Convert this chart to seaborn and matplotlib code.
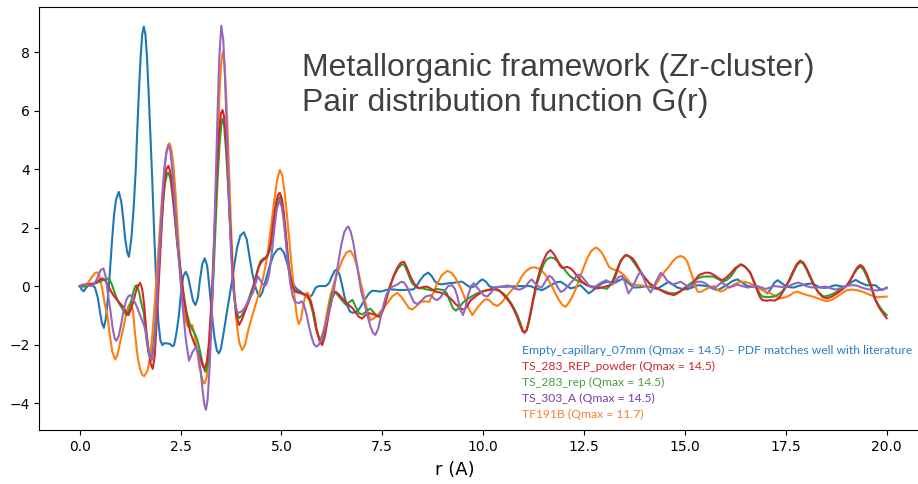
import matplotlib
matplotlib.use("Agg")
import logging
logging.getLogger("matplotlib.font_manager").setLevel(logging.ERROR)
import matplotlib.pyplot as plt
import seaborn as sns
import pandas as pd

# ---------------- data: (r, G) pairs ----------------
empty_capillary = [
    (0.00, 0.00), (0.05, -0.12), (0.10, -0.18), (0.15, -0.08), (0.22, 0.03), (0.30, 0.05), (0.38, -0.05),
    (0.45, -0.40), (0.50, -0.85), (0.55, -1.25), (0.60, -1.43), (0.65, -1.10), (0.70, -0.40), (0.75, 0.50),
    (0.80, 1.50), (0.85, 2.40), (0.90, 2.95), (0.97, 3.22), (1.03, 2.90), (1.08, 2.30), (1.13, 1.60),
    (1.18, 1.15), (1.22, 1.00), (1.28, 1.60), (1.34, 2.70), (1.39, 3.97), (1.43, 5.40), (1.47, 6.70),
    (1.51, 7.80), (1.55, 8.60), (1.59, 8.87), (1.63, 8.60), (1.67, 7.80), (1.71, 6.60), (1.75, 5.30),
    (1.80, 3.60), (1.85, 1.70), (1.90, 0.00), (1.95, -1.20), (2.00, -1.85), (2.05, -2.02), (2.10, -1.95),
    (2.17, -1.96), (2.24, -1.98), (2.30, -2.06), (2.34, -2.02), (2.40, -1.60), (2.46, -1.00), (2.52, -0.10),
    (2.57, 0.35), (2.63, 0.49), (2.69, 0.30), (2.75, -0.10), (2.81, -0.50), (2.87, -0.65), (2.93, -0.40),
    (2.98, 0.20), (3.04, 0.75), (3.10, 0.95), (3.16, 0.70), (3.22, -0.10), (3.28, -1.00), (3.34, -1.75),
    (3.40, -2.20), (3.45, -2.30), (3.50, -2.15), (3.58, -1.50), (3.66, -0.80), (3.74, -0.14), (3.82, 0.60),
    (3.90, 1.30), (3.98, 1.72), (4.07, 1.84), (4.14, 1.60), (4.21, 1.00), (4.28, 0.43), (4.36, -0.05),
    (4.43, -0.32), (4.47, -0.36), (4.53, -0.20), (4.60, 0.15), (4.70, 0.65), (4.80, 1.05), (4.90, 1.25),
    (4.98, 1.29), (5.06, 1.15), (5.14, 0.80), (5.23, 0.32), (5.33, -0.02), (5.40, -0.12), (5.48, -0.19),
    (5.58, -0.32), (5.68, -0.40), (5.76, -0.30), (5.85, -0.05), (5.93, 0.00), (6.01, 0.00), (6.10, 0.00),
    (6.18, 0.10), (6.26, 0.35), (6.32, 0.52), (6.38, 0.57), (6.44, 0.40), (6.50, 0.05), (6.57, -0.40),
    (6.64, -0.70), (6.70, -0.87), (6.76, -0.91), (6.84, -0.90), (6.92, -0.80), (7.00, -0.62), (7.09, -0.42),
    (7.17, -0.25), (7.25, -0.16), (7.35, -0.17), (7.46, -0.19), (7.56, -0.15), (7.66, -0.11), (7.80, -0.12),
    (7.95, -0.14), (8.10, -0.13), (8.28, -0.11), (8.37, 0.05), (8.45, 0.22), (8.54, 0.38), (8.64, 0.46),
    (8.72, 0.35), (8.80, 0.17), (8.86, 0.09), (8.95, 0.06), (9.03, 0.07), (9.15, 0.10), (9.27, 0.11),
    (9.38, 0.14), (9.48, 0.15), (9.58, 0.05), (9.69, -0.05), (9.80, 0.00), (9.90, 0.15), (9.98, 0.23),
    (10.07, 0.15), (10.15, 0.00), (10.23, -0.05), (10.40, -0.03), (10.60, -0.02), (10.90, 0.00),
    (11.17, 0.00), (11.30, -0.08), (11.46, -0.14), (11.58, -0.05), (11.70, 0.05), (11.82, 0.13),
    (11.92, 0.15), (12.05, 0.03), (12.17, -0.08), (12.30, -0.03), (12.41, 0.03), (12.52, -0.12),
    (12.62, -0.25), (12.72, -0.15), (12.85, 0.00), (12.96, 0.10), (13.07, 0.15), (13.18, 0.12),
    (13.28, 0.12), (13.38, 0.20), (13.49, 0.26), (13.60, 0.10), (13.74, -0.05), (13.90, -0.04),
    (14.07, 0.00), (14.20, -0.06), (14.30, -0.10), (14.45, 0.02), (14.60, 0.15), (14.70, 0.06),
    (14.81, -0.05), (14.95, -0.10), (15.06, -0.11), (15.18, -0.05), (15.31, 0.03), (15.43, 0.02),
    (15.55, 0.00), (15.68, -0.08), (15.81, -0.14), (15.92, -0.06), (16.05, 0.05), (16.18, 0.17),
    (16.30, 0.23), (16.42, 0.12), (16.55, 0.00), (16.68, -0.02), (16.80, -0.02), (16.92, -0.12),
    (17.05, -0.25), (17.15, -0.05), (17.22, 0.12), (17.30, 0.20), (17.40, 0.10), (17.50, 0.00),
    (17.60, -0.04), (17.70, -0.05), (17.80, 0.00), (17.90, 0.03), (18.02, 0.07), (18.15, 0.09),
    (18.25, 0.02), (18.35, -0.05), (18.45, -0.06), (18.55, -0.05), (18.65, 0.00), (18.73, 0.03),
    (18.84, 0.00), (18.95, -0.02), (19.05, 0.05), (19.15, 0.15), (19.23, 0.21), (19.35, 0.12),
    (19.50, 0.03), (19.62, 0.03), (19.72, 0.03), (19.80, -0.06), (19.89, -0.14), (20.00, -0.05)]

tf191b = [
    (0.00, 0.00), (0.10, 0.02), (0.20, 0.10), (0.30, 0.30), (0.38, 0.45), (0.44, 0.47), (0.50, 0.30),
    (0.56, -0.10), (0.62, -0.60), (0.68, -0.95), (0.75, -1.70), (0.81, -2.25), (0.88, -2.51), (0.94, -2.35),
    (0.99, -2.00), (1.03, -1.75), (1.09, -1.39), (1.15, -0.95), (1.21, -0.68), (1.27, -0.55), (1.32, -0.85),
    (1.38, -1.73), (1.44, -2.45), (1.50, -2.85), (1.55, -3.03), (1.60, -3.08), (1.68, -2.90), (1.75, -2.40),
    (1.80, -1.70), (1.85, -0.80), (1.90, 0.20), (1.95, 1.20), (2.00, 2.20), (2.05, 3.20), (2.10, 4.00),
    (2.15, 4.55), (2.20, 4.85), (2.23, 4.88), (2.27, 4.70), (2.32, 4.20), (2.37, 3.30), (2.42, 2.20),
    (2.47, 1.10), (2.52, 0.00), (2.57, -0.70), (2.63, -1.20), (2.68, -1.38), (2.73, -1.35), (2.79, -1.33),
    (2.84, -1.60), (2.90, -2.10), (2.96, -2.70), (3.02, -3.10), (3.07, -3.30), (3.10, -3.33), (3.15, -3.10),
    (3.20, -2.50), (3.25, -1.40), (3.30, 0.00), (3.35, 2.00), (3.40, 4.00), (3.44, 5.60), (3.48, 7.00),
    (3.52, 7.80), (3.55, 8.01), (3.59, 7.60), (3.63, 6.60), (3.67, 5.20), (3.71, 3.60), (3.75, 2.10),
    (3.79, 0.80), (3.84, -0.40), (3.90, -1.40), (3.96, -1.95), (4.03, -2.19), (4.10, -2.00), (4.18, -1.50),
    (4.25, -1.15), (4.32, -0.82), (4.40, -0.45), (4.48, -0.10), (4.57, 0.43), (4.66, 1.10), (4.74, 2.00),
    (4.82, 2.90), (4.89, 3.60), (4.96, 3.97), (5.02, 3.80), (5.08, 3.20), (5.14, 2.40), (5.20, 1.50),
    (5.26, 0.60), (5.32, -0.30), (5.38, -1.00), (5.43, -1.30), (5.48, -1.15), (5.53, -0.75), (5.58, -0.40),
    (5.64, -0.22), (5.70, -0.35), (5.76, -0.70), (5.82, -1.20), (5.88, -1.60), (5.95, -1.83), (6.01, -1.70),
    (6.08, -1.30), (6.14, -0.82), (6.22, -0.30), (6.30, 0.09), (6.40, 0.50), (6.51, 0.89), (6.61, 1.15),
    (6.71, 1.21), (6.80, 1.00), (6.88, 0.66), (6.96, 0.15), (7.05, -0.36), (7.13, -0.85), (7.21, -1.16),
    (7.30, -1.10), (7.38, -0.99), (7.50, -0.80), (7.62, -0.59), (7.75, -0.35), (7.87, -0.23), (7.98, -0.38),
    (8.08, -0.59), (8.16, -0.75), (8.24, -0.80), (8.35, -0.68), (8.45, -0.54), (8.56, -0.52), (8.66, -0.54),
    (8.76, -0.25), (8.86, 0.09), (8.98, 0.38), (9.11, 0.52), (9.22, 0.45), (9.32, 0.26), (9.42, 0.00),
    (9.52, -0.31), (9.62, -0.70), (9.73, -0.99), (9.85, -0.75), (9.98, -0.54), (10.06, -0.45),
    (10.15, -0.48), (10.25, -0.62), (10.35, -0.68), (10.45, -0.58), (10.60, -0.31), (10.72, -0.12),
    (10.81, -0.03), (10.90, 0.18), (10.97, 0.36), (11.07, 0.52), (11.17, 0.62), (11.28, 0.64), (11.38, 0.60),
    (11.47, 0.50), (11.55, 0.37), (11.63, 0.18), (11.71, -0.02), (11.80, -0.28), (11.88, -0.48),
    (11.96, -0.64), (12.04, -0.71), (12.12, -0.58), (12.21, -0.36), (12.30, -0.08), (12.38, 0.21),
    (12.48, 0.60), (12.58, 0.95), (12.68, 1.20), (12.79, 1.32), (12.87, 1.25), (12.95, 1.12), (13.04, 0.88),
    (13.12, 0.66), (13.20, 0.58), (13.28, 0.55), (13.37, 0.50), (13.45, 0.43), (13.55, 0.28), (13.65, 0.10),
    (13.78, 0.04), (13.90, 0.03), (14.00, 0.00), (14.10, 0.00), (14.20, 0.01), (14.27, 0.03), (14.33, 0.15),
    (14.40, 0.32), (14.50, 0.50), (14.60, 0.66), (14.70, 0.85), (14.80, 0.98), (14.89, 1.03), (14.98, 0.98),
    (15.06, 0.83), (15.14, 0.50), (15.22, 0.20), (15.27, -0.05), (15.32, -0.20), (15.40, -0.20),
    (15.47, -0.14), (15.60, -0.05), (15.72, 0.00), (15.80, -0.12), (15.88, -0.19), (15.98, -0.14),
    (16.05, -0.06), (16.13, -0.02), (16.25, 0.08), (16.38, 0.15), (16.50, 0.14), (16.60, 0.10),
    (16.72, 0.02), (16.85, -0.08), (16.98, -0.18), (17.12, -0.25), (17.25, -0.35), (17.37, -0.42),
    (17.50, -0.38), (17.61, -0.31), (17.70, -0.22), (17.78, -0.19), (17.90, -0.25), (18.03, -0.31),
    (18.17, -0.36), (18.30, -0.42), (18.42, -0.48), (18.52, -0.52), (18.65, -0.46), (18.77, -0.36),
    (18.90, -0.24), (19.02, -0.14), (19.15, -0.12), (19.30, -0.15), (19.42, -0.20), (19.55, -0.28),
    (19.66, -0.34), (19.76, -0.38), (19.88, -0.37), (20.00, -0.36)]

ts_283_rep = [
    (0.00, 0.00), (0.10, -0.02), (0.20, 0.00), (0.30, 0.05), (0.40, 0.10), (0.50, 0.15), (0.60, 0.22),
    (0.68, 0.26), (0.74, 0.22), (0.80, 0.05), (0.86, -0.20), (0.92, -0.42), (0.98, -0.60), (1.05, -0.75),
    (1.11, -0.90), (1.17, -0.99), (1.22, -0.85), (1.27, -0.55), (1.33, -0.20), (1.38, 0.00), (1.42, 0.03),
    (1.47, -0.20), (1.53, -0.60), (1.59, -0.93), (1.65, -1.75), (1.70, -2.25), (1.75, -2.45), (1.79, -2.45),
    (1.83, -2.00), (1.87, -1.40), (1.92, -0.40), (1.97, 0.70), (2.02, 1.90), (2.07, 2.90), (2.12, 3.55),
    (2.17, 3.85), (2.20, 3.88), (2.25, 3.65), (2.30, 3.10), (2.36, 2.30), (2.42, 1.40), (2.50, 0.50),
    (2.58, -0.30), (2.65, -0.90), (2.73, -1.30), (2.80, -1.50), (2.86, -1.65), (2.92, -1.85), (2.98, -2.20),
    (3.04, -2.60), (3.09, -2.85), (3.12, -2.93), (3.17, -2.70), (3.22, -2.00), (3.27, -0.90), (3.32, 0.50),
    (3.37, 2.10), (3.42, 3.70), (3.47, 4.90), (3.51, 5.50), (3.54, 5.73), (3.58, 5.50), (3.63, 4.60),
    (3.68, 3.40), (3.73, 2.00), (3.78, 0.70), (3.83, -0.30), (3.89, -0.90), (3.95, -1.10), (4.02, -1.00),
    (4.10, -0.80), (4.20, -0.40), (4.30, 0.00), (4.40, 0.50), (4.48, 0.85), (4.56, 0.95), (4.65, 1.00),
    (4.72, 1.25), (4.78, 1.70), (4.84, 2.40), (4.90, 2.90), (4.96, 3.05), (5.01, 2.90), (5.06, 2.40),
    (5.11, 1.70), (5.16, 1.00), (5.21, 0.40), (5.27, 0.00), (5.35, -0.20), (5.48, -0.25), (5.62, -0.30),
    (5.70, -0.50), (5.78, -0.90), (5.86, -1.45), (5.94, -1.80), (6.02, -1.92), (6.08, -1.60), (6.14, -1.10),
    (6.20, -0.60), (6.27, -0.20), (6.34, -0.20), (6.42, -0.35), (6.51, -0.50), (6.60, -0.64), (6.68, -0.55),
    (6.76, -0.47), (6.84, -0.70), (6.92, -0.92), (7.00, -0.97), (7.08, -0.90), (7.15, -0.80), (7.21, -0.78),
    (7.29, -0.90), (7.36, -1.02), (7.42, -1.05), (7.50, -0.85), (7.60, -0.40), (7.70, 0.05), (7.79, 0.35),
    (7.90, 0.62), (7.97, 0.72), (8.04, 0.75), (8.12, 0.50), (8.18, 0.28), (8.24, 0.10), (8.35, -0.05),
    (8.50, -0.08), (8.62, -0.12), (8.73, -0.15), (8.85, -0.10), (8.95, -0.12), (9.03, -0.14), (9.10, -0.25),
    (9.17, -0.50), (9.25, -0.75), (9.32, -0.84), (9.40, -0.75), (9.48, -0.59), (9.60, -0.45), (9.72, -0.35),
    (9.85, -0.25), (10.00, -0.17), (10.10, -0.14), (10.30, -0.12), (10.42, -0.18), (10.50, -0.25),
    (10.60, -0.40), (10.70, -0.60), (10.78, -0.80), (10.85, -1.00), (10.93, -1.30), (10.98, -1.50),
    (11.03, -1.58), (11.08, -1.50), (11.13, -1.25), (11.17, -1.00), (11.25, -0.45), (11.34, 0.10),
    (11.42, 0.45), (11.50, 0.75), (11.58, 0.92), (11.67, 0.98), (11.76, 0.95), (11.84, 0.85), (11.92, 0.72),
    (12.00, 0.60), (12.08, 0.45), (12.17, 0.32), (12.28, 0.22), (12.40, 0.15), (12.52, 0.08), (12.66, 0.00),
    (12.78, -0.03), (12.90, -0.05), (13.07, -0.09), (13.16, 0.05), (13.23, 0.25), (13.30, 0.50),
    (13.40, 0.85), (13.50, 1.03), (13.57, 1.06), (13.66, 0.95), (13.75, 0.78), (13.84, 0.60), (13.92, 0.42),
    (14.00, 0.30), (14.10, 0.12), (14.20, 0.00), (14.35, -0.10), (14.50, -0.18), (14.62, -0.24),
    (14.75, -0.25), (14.85, -0.20), (14.93, -0.12), (15.05, 0.00), (15.20, 0.15), (15.30, 0.25),
    (15.43, 0.32), (15.58, 0.33), (15.72, 0.32), (15.85, 0.22), (15.95, 0.15), (16.05, 0.22), (16.15, 0.35),
    (16.27, 0.60), (16.38, 0.75), (16.48, 0.68), (16.60, 0.50), (16.70, 0.20), (16.78, -0.05), (16.85, -0.25),
    (16.92, -0.36), (17.05, -0.38), (17.20, -0.36), (17.30, -0.30), (17.40, -0.20), (17.50, -0.02),
    (17.60, 0.20), (17.70, 0.50), (17.78, 0.72), (17.86, 0.83), (17.94, 0.75), (18.02, 0.55), (18.10, 0.30),
    (18.20, 0.02), (18.30, -0.20), (18.44, -0.36), (18.57, -0.32), (18.70, -0.25), (18.85, -0.12),
    (19.00, 0.00), (19.10, 0.20), (19.20, 0.45), (19.28, 0.60), (19.35, 0.66), (19.42, 0.58), (19.50, 0.35),
    (19.60, 0.00), (19.70, -0.40), (19.80, -0.65), (19.90, -0.85), (20.00, -0.99)]

ts_283_rep_powder = [
    (0.00, 0.00), (0.10, 0.05), (0.20, 0.05), (0.30, 0.08), (0.40, 0.10), (0.48, 0.20), (0.57, 0.26),
    (0.64, 0.18), (0.70, 0.02), (0.76, -0.14), (0.84, -0.32), (0.93, -0.48), (1.02, -0.62), (1.09, -0.72),
    (1.16, -0.92), (1.21, -0.99), (1.27, -0.80), (1.34, -0.48), (1.42, -0.05), (1.50, 0.11), (1.55, -0.10),
    (1.60, -0.65), (1.65, -1.50), (1.71, -2.20), (1.76, -2.65), (1.81, -2.83), (1.86, -2.40), (1.90, -1.40),
    (1.95, -0.20), (2.00, 1.20), (2.05, 2.50), (2.10, 3.50), (2.15, 4.00), (2.20, 4.11), (2.25, 3.90),
    (2.30, 3.30), (2.36, 2.40), (2.42, 1.50), (2.50, 0.55), (2.58, -0.40), (2.67, -1.16), (2.75, -1.62),
    (2.84, -1.95), (2.92, -2.19), (3.00, -2.50), (3.06, -2.75), (3.10, -2.81), (3.15, -2.60), (3.20, -2.00),
    (3.25, -0.90), (3.30, 0.50), (3.35, 2.20), (3.40, 3.90), (3.45, 5.20), (3.50, 5.90), (3.54, 6.02),
    (3.58, 5.80), (3.63, 4.90), (3.68, 3.60), (3.73, 2.10), (3.78, 0.80), (3.83, -0.30), (3.88, -1.00),
    (3.95, -1.33), (4.02, -1.15), (4.10, -0.85), (4.17, -0.60), (4.24, -0.36), (4.34, 0.15), (4.44, 0.66),
    (4.52, 0.85), (4.61, 0.95), (4.68, 1.15), (4.74, 1.50), (4.80, 2.20), (4.86, 2.80), (4.91, 3.10),
    (4.96, 3.19), (5.01, 3.00), (5.06, 2.50), (5.11, 1.80), (5.16, 1.00), (5.21, 0.40), (5.27, 0.00),
    (5.33, -0.15), (5.39, -0.19), (5.50, -0.25), (5.64, -0.31), (5.72, -0.50), (5.80, -0.90), (5.87, -1.45),
    (5.94, -1.85), (6.01, -2.02), (6.07, -1.75), (6.13, -1.30), (6.19, -0.85), (6.26, -0.40), (6.34, -0.19),
    (6.42, -0.28), (6.51, -0.42), (6.59, -0.55), (6.67, -0.65), (6.76, -0.75), (6.84, -0.90), (6.92, -1.05),
    (7.00, -1.11), (7.08, -1.00), (7.17, -0.93), (7.25, -0.95), (7.33, -0.99), (7.40, -1.04), (7.46, -1.02),
    (7.54, -0.75), (7.62, -0.36), (7.70, 0.00), (7.79, 0.38), (7.88, 0.65), (7.96, 0.80), (8.04, 0.83),
    (8.12, 0.60), (8.18, 0.38), (8.24, 0.21), (8.32, 0.02), (8.41, -0.08), (8.51, -0.03), (8.61, -0.02),
    (8.72, -0.10), (8.82, -0.19), (8.92, -0.22), (9.03, -0.25), (9.13, -0.35), (9.23, -0.48), (9.32, -0.62),
    (9.40, -0.71), (9.47, -0.79), (9.53, -0.80), (9.60, -0.70), (9.68, -0.50), (9.85, -0.31), (10.00, -0.18),
    (10.10, -0.14), (10.27, -0.08), (10.38, -0.13), (10.47, -0.25), (10.58, -0.42), (10.68, -0.60),
    (10.76, -0.80), (10.84, -1.05), (10.92, -1.35), (10.98, -1.55), (11.03, -1.60), (11.08, -1.50),
    (11.13, -1.20), (11.17, -0.93), (11.25, -0.35), (11.34, 0.20), (11.42, 0.60), (11.50, 0.89),
    (11.58, 1.12), (11.67, 1.23), (11.75, 1.10), (11.84, 0.89), (11.90, 0.70), (11.96, 0.62), (12.02, 0.63),
    (12.08, 0.66), (12.17, 0.60), (12.25, 0.49), (12.35, 0.30), (12.45, 0.15), (12.55, 0.04), (12.66, -0.02),
    (12.83, -0.08), (13.00, -0.03), (13.12, 0.02), (13.20, 0.09), (13.27, 0.30), (13.34, 0.60), (13.42, 0.88),
    (13.53, 1.06), (13.62, 1.02), (13.70, 0.95), (13.78, 0.80), (13.86, 0.60), (13.94, 0.42), (14.02, 0.26),
    (14.12, 0.10), (14.23, -0.02), (14.40, -0.14), (14.55, -0.25), (14.73, -0.31), (14.85, -0.22),
    (14.93, -0.14), (15.05, -0.05), (15.14, -0.02), (15.25, 0.20), (15.35, 0.38), (15.51, 0.46),
    (15.62, 0.45), (15.72, 0.38), (15.82, 0.28), (15.92, 0.20), (16.02, 0.28), (16.13, 0.43), (16.25, 0.62),
    (16.35, 0.70), (16.42, 0.72), (16.52, 0.62), (16.63, 0.43), (16.72, 0.10), (16.79, -0.14), (16.86, -0.38),
    (16.92, -0.48), (17.02, -0.50), (17.12, -0.48), (17.22, -0.50), (17.33, -0.42), (17.45, -0.15),
    (17.58, 0.20), (17.68, 0.50), (17.77, 0.75), (17.86, 0.87), (17.94, 0.80), (18.02, 0.60), (18.11, 0.32),
    (18.20, 0.05), (18.32, -0.25), (18.42, -0.38), (18.52, -0.42), (18.64, -0.36), (18.77, -0.25),
    (18.90, -0.12), (19.02, 0.03), (19.12, 0.25), (19.23, 0.55), (19.30, 0.68), (19.35, 0.72), (19.42, 0.65),
    (19.52, 0.38), (19.62, 0.00), (19.72, -0.48), (19.82, -0.75), (19.92, -0.95), (20.00, -1.10)]

ts_303_a = [
    (0.00, 0.00), (0.10, 0.05), (0.20, 0.02), (0.30, 0.00), (0.38, 0.12), (0.45, 0.30), (0.52, 0.55),
    (0.59, 0.60), (0.65, 0.30), (0.70, -0.25), (0.76, -0.82), (0.82, -1.45), (0.87, -1.80), (0.91, -1.87),
    (0.97, -1.70), (1.03, -1.30), (1.09, -0.82), (1.15, -0.50), (1.21, -0.34), (1.26, -0.31), (1.33, -0.45),
    (1.42, -0.71), (1.50, -1.00), (1.57, -1.25), (1.63, -1.50), (1.69, -2.05), (1.75, -2.45), (1.79, -2.53),
    (1.83, -2.20), (1.87, -1.50), (1.91, -0.50), (1.95, 0.50), (2.00, 1.80), (2.05, 3.00), (2.10, 4.00),
    (2.15, 4.60), (2.20, 4.82), (2.25, 4.60), (2.30, 3.90), (2.35, 3.00), (2.40, 2.00), (2.45, 1.00),
    (2.50, 0.20), (2.56, -0.80), (2.63, -1.80), (2.71, -2.55), (2.80, -2.25), (2.89, -2.06), (2.95, -2.40),
    (3.00, -2.90), (3.05, -3.60), (3.09, -4.05), (3.13, -4.23), (3.17, -3.90), (3.22, -2.80), (3.27, -1.20),
    (3.32, 1.00), (3.37, 3.50), (3.42, 6.00), (3.46, 7.80), (3.51, 8.90), (3.56, 8.40), (3.60, 7.20),
    (3.65, 5.20), (3.70, 3.00), (3.75, 1.20), (3.80, 0.00), (3.86, -0.70), (3.92, -0.92), (4.00, -0.88),
    (4.09, -0.75), (4.20, -0.45), (4.29, -0.24), (4.36, 0.10), (4.42, 0.33), (4.50, 0.15), (4.58, -0.01),
    (4.64, 0.10), (4.70, 0.44), (4.76, 1.10), (4.82, 1.90), (4.88, 2.60), (4.95, 2.95), (5.01, 2.70),
    (5.06, 2.20), (5.11, 1.50), (5.16, 0.79), (5.22, 0.10), (5.28, -0.35), (5.34, -0.55), (5.44, -0.58),
    (5.50, -0.52), (5.56, -0.65), (5.62, -0.95), (5.68, -1.35), (5.75, -1.75), (5.81, -2.00), (5.87, -2.07),
    (5.93, -2.00), (6.00, -1.75), (6.07, -1.45), (6.14, -1.10), (6.21, -0.71), (6.28, -0.30), (6.35, 0.30),
    (6.42, 0.89), (6.49, 1.45), (6.56, 1.85), (6.62, 2.00), (6.66, 2.03), (6.72, 1.85), (6.78, 1.50),
    (6.85, 0.90), (6.92, 0.30), (6.98, -0.20), (7.05, -0.55), (7.12, -0.95), (7.20, -1.35), (7.27, -1.60),
    (7.33, -1.67), (7.40, -1.45), (7.47, -1.00), (7.54, -0.60), (7.60, -0.30), (7.66, -0.15), (7.75, -0.02),
    (7.87, 0.05), (7.97, 0.15), (8.04, 0.12), (8.12, -0.05), (8.20, -0.30), (8.28, -0.55), (8.37, -0.62),
    (8.47, -0.50), (8.57, -0.36), (8.70, -0.31), (8.80, -0.45), (8.86, -0.48), (8.95, -0.38), (9.03, -0.20),
    (9.13, 0.00), (9.23, 0.03), (9.30, -0.10), (9.36, -0.35), (9.43, -0.80), (9.50, -0.99), (9.56, -0.75),
    (9.62, -0.35), (9.70, 0.00), (9.77, 0.10), (9.85, -0.05), (9.94, -0.20), (10.02, -0.32), (10.10, -0.36),
    (10.18, -0.25), (10.27, -0.08), (10.35, -0.03), (10.43, -0.02), (10.52, 0.00), (10.60, 0.02),
    (10.68, 0.00), (10.75, -0.05), (10.82, -0.10), (10.90, -0.12), (10.98, -0.08), (11.05, -0.02),
    (11.12, 0.12), (11.20, 0.23), (11.27, 0.12), (11.35, 0.00), (11.45, -0.05), (11.54, 0.15), (11.63, 0.35),
    (11.70, 0.30), (11.78, 0.15), (11.85, -0.05), (11.92, -0.20), (12.00, -0.15), (12.10, 0.00),
    (12.20, 0.15), (12.30, 0.32), (12.37, 0.40), (12.45, 0.32), (12.55, 0.15), (12.62, 0.02), (12.70, -0.05),
    (12.80, 0.00), (12.90, 0.10), (13.05, 0.20), (13.12, 0.15), (13.20, 0.05), (13.28, 0.15), (13.35, 0.30),
    (13.45, 0.35), (13.52, 0.10), (13.60, -0.25), (13.68, -0.10), (13.75, 0.10), (13.83, 0.35), (13.90, 0.50),
    (13.97, 0.30), (14.05, 0.00), (14.15, -0.22), (14.22, -0.05), (14.30, 0.20), (14.40, 0.45), (14.48, 0.35),
    (14.55, 0.20), (14.62, 0.10), (14.70, 0.05), (14.80, 0.10), (14.90, 0.15), (15.00, 0.05), (15.10, -0.05),
    (15.20, 0.05), (15.30, 0.15), (15.40, 0.15), (15.50, 0.10), (15.60, 0.00), (15.70, -0.08), (15.80, 0.00),
    (15.90, 0.12), (16.00, 0.05), (16.10, -0.05), (16.20, 0.00), (16.30, 0.05), (16.42, 0.00),
    (16.55, -0.05), (16.68, -0.02), (16.80, 0.00), (16.90, -0.05), (17.00, -0.10), (17.10, -0.05),
    (17.20, 0.00), (17.35, -0.02), (17.50, -0.05), (17.65, 0.05), (17.80, 0.12), (17.90, 0.08),
    (18.00, 0.00), (18.12, -0.04), (18.25, -0.05), (18.38, -0.03), (18.50, -0.02), (18.62, -0.08),
    (18.75, -0.12), (18.88, -0.06), (19.00, 0.00), (19.12, 0.03), (19.25, 0.02), (19.38, -0.05),
    (19.50, -0.10), (19.62, -0.13), (19.75, -0.15), (19.88, -0.12), (20.00, -0.08)]

x_ticks = [0.0, 2.5, 5.0, 7.5, 10.0, 12.5, 15.0, 17.5, 20.0]
y_ticks = [-4, -2, 0, 2, 4, 6, 8]

title_lines = ["Metallorganic framework (Zr-cluster)", "Pair distribution function G(r)"]
legend_lines = ["Empty_capillary_07mm (Qmax = 14.5) \u2013 PDF matches well with literature",
                "TS_283_REP_powder (Qmax = 14.5)",
                "TS_283_rep (Qmax = 14.5)",
                "TS_303_A (Qmax = 14.5)",
                "TF191B (Qmax = 11.7)"]
x_label = "r (A)"

# ---------------- figure ----------------
W, H = 918, 484
fig = plt.figure(figsize=(W / 100, H / 100), dpi=100)
ax = fig.add_axes([39.3 / W, 54 / H, (927 - 39.3) / W, 423 / H])

series = [
    (empty_capillary, "#1f77b4"),
    (tf191b, "#ff7f0e"),
    (ts_283_rep, "#2ca02c"),
    (ts_283_rep_powder, "#d62728"),
    (ts_303_a, "#9467bd"),
]
for pts, col in series:
    df = pd.DataFrame(pts, columns=["r", "G"])
    sns.lineplot(data=df, x="r", y="G", ax=ax, color=col, linewidth=1.5,
                 estimator=None, sort=True)
for ln in ax.get_lines():
    ln.set_solid_joinstyle("round")

ax.set_xlim(-1.0, 21.0)
ax.set_ylim(-4.92, 9.54)
ax.set_xticks(x_ticks)
ax.set_yticks(y_ticks)
ax.set_xlabel("")
ax.set_ylabel("")
ax.tick_params(labelsize=10)

fig.text(455 / W, 1 - 470 / H, x_label, ha="center", va="center", fontsize=13)

fig.canvas.draw()
renderer = fig.canvas.get_renderer()

# title (two lines)
t_objs = []
for line, base in zip(title_lines, [76, 111]):
    t = fig.text(302 / W, 1 - base / H, line, ha="left", va="baseline",
                 fontsize=22, color="#404040", family=["Liberation Sans", "DejaVu Sans"])
    t_objs.append(t)
bb = t_objs[0].get_window_extent(renderer)
fs = 22 * (812.7 - 302) / bb.width
for t in t_objs:
    t.set_fontsize(fs)

# coloured series captions
leg_cols = ["#2e7bc4", "#c9282d", "#4f9b3f", "#7a3aac", "#f5822a"]
l_objs = []
for i, (line, col) in enumerate(zip(legend_lines, leg_cols)):
    t = fig.text(522.3 / W, 1 - (354 + 16 * i) / H, line, ha="left", va="baseline",
                 fontsize=9.5, color=col, family=["Lato", "DejaVu Sans"])
    l_objs.append(t)
bb = l_objs[0].get_window_extent(renderer)
fs = 9.5 * 392 / bb.width
for t in l_objs:
    t.set_fontsize(fs)

fig.savefig("out.png", dpi=100)
